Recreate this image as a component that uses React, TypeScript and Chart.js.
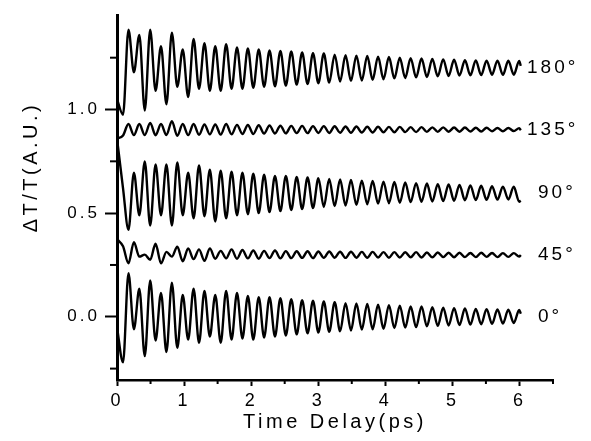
import React, { useEffect, useRef } from 'react';
import { Chart, registerables } from 'chart.js';

Chart.register(...registerables);

const FONT = '"Liberation Sans", Arial, Helvetica, sans-serif';

// Time delay (ps) of the sampled points: start, successive extrema, end
const timeDelay = [
  0, 0.090, 0.171, 0.252, 0.333, 0.414, 0.495, 0.575, 0.656, 0.737,
  0.818, 0.899, 0.980, 1.061, 1.142, 1.223, 1.304, 1.384, 1.465, 1.546,
  1.627, 1.708, 1.789, 1.870, 1.951, 2.032, 2.113, 2.193, 2.274, 2.355,
  2.436, 2.517, 2.598, 2.679, 2.760, 2.841, 2.922, 3.002, 3.083, 3.164,
  3.245, 3.326, 3.407, 3.488, 3.569, 3.650, 3.731, 3.811, 3.892, 3.973,
  4.054, 4.135, 4.216, 4.297, 4.378, 4.459, 4.540, 4.620, 4.701, 4.782,
  4.863, 4.944, 5.025, 5.106, 5.187, 5.268, 5.349, 5.429, 5.510, 5.591,
  5.672, 5.753, 5.834, 5.915, 5.996, 6.020,
];

const deg0 = [
  -0.05, -0.22, 0.21, -0.06, 0.135, -0.19, 0.175, -0.115, 0.115, -0.17,
  0.165, -0.15, 0.105, -0.11, 0.135, -0.125, 0.125, -0.095, 0.105, -0.125,
  0.125, -0.11, 0.115, -0.105, 0.1, -0.11, 0.095, -0.1, 0.095, -0.095,
  0.09, -0.09, 0.085, -0.085, 0.08, -0.08, 0.078, -0.076, 0.074, -0.072,
  0.07, -0.07, 0.066, -0.066, 0.064, -0.062, 0.062, -0.06, 0.058, -0.058,
  0.056, -0.054, 0.054, -0.052, 0.05, -0.05, 0.05, -0.046, 0.046, -0.044,
  0.044, -0.042, 0.042, -0.04, 0.04, -0.038, 0.038, -0.036, 0.037, -0.034,
  0.035, -0.033, 0.034, -0.03, 0.033, 0.015,
];

const deg45 = [
  0.375, 0.34, 0.258, 0.36, 0.29, 0.30, 0.275, 0.352, 0.258, 0.313,
  0.29, 0.338, 0.268, 0.33, 0.278, 0.325, 0.27, 0.33, 0.28, 0.318,
  0.282, 0.325, 0.28, 0.322, 0.282, 0.32, 0.28, 0.318, 0.283, 0.32,
  0.282, 0.317, 0.283, 0.316, 0.284, 0.316, 0.283, 0.315, 0.284, 0.315,
  0.285, 0.314, 0.284, 0.314, 0.285, 0.313, 0.285, 0.313, 0.286, 0.312,
  0.285, 0.312, 0.286, 0.311, 0.287, 0.312, 0.286, 0.31, 0.287, 0.31,
  0.288, 0.309, 0.287, 0.309, 0.288, 0.308, 0.288, 0.309, 0.289, 0.308,
  0.288, 0.307, 0.289, 0.307, 0.29, 0.298,
];

const deg90 = [
  0.86, 0.62, 0.42, 0.695, 0.49, 0.75, 0.44, 0.735, 0.49, 0.735,
  0.44, 0.745, 0.49, 0.695, 0.475, 0.73, 0.485, 0.71, 0.46, 0.705,
  0.475, 0.70, 0.49, 0.695, 0.495, 0.69, 0.50, 0.685, 0.505, 0.68,
  0.51, 0.68, 0.515, 0.675, 0.52, 0.672, 0.525, 0.668, 0.53, 0.665,
  0.534, 0.662, 0.537, 0.66, 0.54, 0.657, 0.543, 0.655, 0.546, 0.652,
  0.548, 0.65, 0.55, 0.648, 0.553, 0.645, 0.555, 0.643, 0.556, 0.64,
  0.558, 0.638, 0.56, 0.636, 0.562, 0.634, 0.563, 0.632, 0.564, 0.63,
  0.565, 0.628, 0.566, 0.627, 0.555, 0.56,
];

const deg135 = [
  0.86, 0.875, 0.93, 0.877, 0.93, 0.877, 0.935, 0.876, 0.93, 0.877,
  0.944, 0.873, 0.93, 0.877, 0.93, 0.878, 0.928, 0.88, 0.928, 0.879,
  0.93, 0.88, 0.926, 0.882, 0.925, 0.882, 0.924, 0.884, 0.923, 0.884,
  0.922, 0.885, 0.921, 0.886, 0.921, 0.886, 0.92, 0.887, 0.92, 0.887,
  0.919, 0.888, 0.918, 0.888, 0.918, 0.889, 0.917, 0.889, 0.917, 0.89,
  0.916, 0.89, 0.916, 0.891, 0.915, 0.891, 0.915, 0.892, 0.914, 0.892,
  0.914, 0.893, 0.913, 0.893, 0.913, 0.894, 0.912, 0.894, 0.912, 0.895,
  0.911, 0.895, 0.911, 0.896, 0.91, 0.9,
];

const deg180 = [
  1.05, 0.975, 1.385, 1.18, 1.36, 0.995, 1.385, 1.09, 1.305, 1.025,
  1.37, 1.11, 1.29, 1.06, 1.34, 1.10, 1.32, 1.09, 1.305, 1.09,
  1.315, 1.10, 1.30, 1.10, 1.295, 1.105, 1.29, 1.11, 1.285, 1.112,
  1.283, 1.115, 1.28, 1.12, 1.275, 1.123, 1.272, 1.127, 1.27, 1.13,
  1.265, 1.135, 1.262, 1.138, 1.26, 1.14, 1.258, 1.143, 1.255, 1.146,
  1.253, 1.15, 1.25, 1.152, 1.248, 1.155, 1.246, 1.157, 1.244, 1.16,
  1.242, 1.162, 1.24, 1.164, 1.238, 1.165, 1.237, 1.166, 1.236, 1.168,
  1.236, 1.167, 1.235, 1.168, 1.234, 1.21,
];

const traceLabels = ['0°', '45°', '90°', '135°', '180°'];
const traceOffsets = [0, 0.3, 0.6, 0.9, 1.2];
const yMinorTicks = [-0.25, 0.25, 0.75, 1.25];
const xMinorTicks = [0.5, 1.5, 2.5, 3.5, 4.5, 5.5, 6.5];

const decorPlugin = {
  id: 'decor',
  beforeDraw(chart: any) {
    chart.ctx.letterSpacing = '3px';
  },
  afterDraw(chart: any) {
    const { ctx, scales } = chart;
    const x = scales.x;
    const y = scales.y;
    ctx.save();
    ctx.strokeStyle = '#000';
    ctx.lineWidth = 2;
    yMinorTicks.forEach((v) => {
      const py = y.getPixelForValue(v);
      ctx.beginPath();
      ctx.moveTo(x.left - 7, py);
      ctx.lineTo(x.left, py);
      ctx.stroke();
    });
    xMinorTicks.forEach((v) => {
      const px = x.getPixelForValue(v);
      ctx.beginPath();
      ctx.moveTo(px, y.bottom);
      ctx.lineTo(px, y.bottom + 4);
      ctx.stroke();
    });
    ctx.fillStyle = '#000';
    ctx.font = `19px ${FONT}`;
    ctx.letterSpacing = '3px';
    ctx.textBaseline = 'middle';
    ctx.textAlign = 'left';
    traceLabels.forEach((lab, k) => {
      ctx.fillText(lab, lab.length > 3 ? 527 : 538, y.getPixelForValue(traceOffsets[k]));
    });
    ctx.font = `20px ${FONT}`;
    ctx.letterSpacing = '3.5px';
    ctx.textAlign = 'center';
    ctx.fillText('Time Delay(ps)', 335, 422);
    ctx.translate(31, 167);
    ctx.rotate(-Math.PI / 2);
    ctx.fillText('ΔT/T(A.U.)', 0, 0);
    ctx.restore();
    ctx.letterSpacing = '0px';
  },
};

export default function App() {
  const ref = useRef<HTMLCanvasElement>(null);
  useEffect(() => {
    const series = [deg0, deg45, deg90, deg135, deg180];
    const chart = new Chart(ref.current as HTMLCanvasElement, {
      type: 'line',
      data: {
        datasets: series.map((vals, k) => ({
          label: traceLabels[k],
          data: timeDelay.map((t, i) => ({ x: t, y: vals[i] })),
          borderColor: '#000',
          borderWidth: 2.4,
          pointRadius: 0,
          cubicInterpolationMode: 'monotone' as const,
          fill: false,
        })),
      },
      options: {
        animation: false,
        responsive: true,
        maintainAspectRatio: false,
        layout: { padding: { top: 5, right: 38, left: 0, bottom: 0 } },
        plugins: { legend: { display: false }, tooltip: { enabled: false } },
        scales: {
          x: {
            type: 'linear',
            min: 0,
            max: 6.5,
            afterFit: (s: any) => {
              s.height = 61;
            },
            ticks: {
              stepSize: 1,
              includeBounds: false,
              padding: 4,
              color: '#000',
              font: { family: FONT, size: 18 },
              callback: (v: any) => String(v),
            },
            grid: { drawOnChartArea: false, tickLength: 6, tickWidth: 2, tickColor: '#000' },
            border: { display: true, color: '#000', width: 2.5 },
          },
          y: {
            type: 'linear',
            min: -0.305,
            max: 1.455,
            afterFit: (s: any) => {
              s.width = 117;
            },
            ticks: {
              stepSize: 0.5,
              includeBounds: false,
              padding: 5,
              color: '#000',
              font: { family: FONT, size: 17 },
              callback: (v: any) => Number(v).toFixed(1),
            },
            grid: { drawOnChartArea: false, tickLength: 12, tickWidth: 2, tickColor: '#000' },
            border: { display: true, color: '#000', width: 3 },
          },
        },
      },
      plugins: [decorPlugin],
    });
    return () => chart.destroy();
  }, []);
  return (
    <div style={{ position: 'absolute', left: 0, top: 0, width: 591, height: 441, background: '#fff' }}>
      <canvas ref={ref} />
    </div>
  );
}
